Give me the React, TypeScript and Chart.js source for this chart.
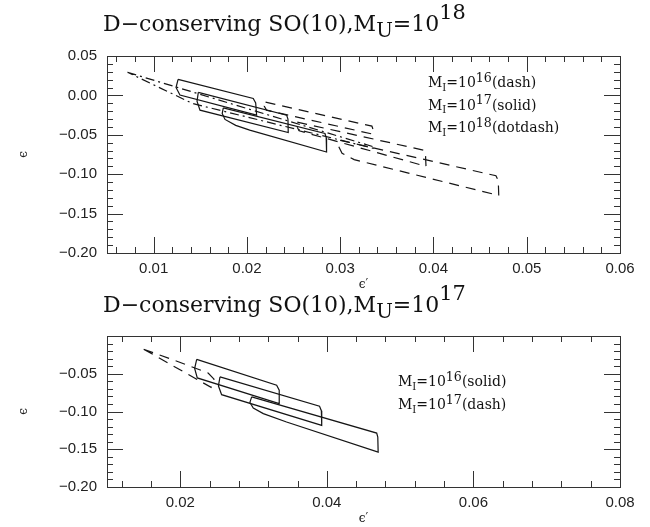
import React, { useEffect, useRef } from "react";
import { Chart, registerables } from "chart.js";

Chart.register(...registerables);

// ---------------- Top panel: D-conserving SO(10), M_U = 10^18 ----------------
const topXTicks = [0.01, 0.02, 0.03, 0.04, 0.05, 0.06];
const topYTicks = [0.05, 0.0, -0.05, -0.1, -0.15, -0.2];

// M_I = 10^17 (solid)
const topSolidAX = [0.01262, 0.02068, 0.02094, 0.02104, 0.01282, 0.0124, 0.01262];
const topSolidAY = [0.0204, -0.0038, -0.0095, -0.0251, 0.0004, 0.01, 0.0204];
const topSolidBX = [0.01479, 0.02426, 0.0244, 0.02443, 0.01497, 0.01465, 0.01479];
const topSolidBY = [0.0038, -0.0251, -0.03, -0.0471, -0.0187, -0.0075, 0.0038];
const topSolidCX = [0.01747, 0.02837, 0.0285, 0.02854, 0.0203, 0.0188, 0.01765, 0.01735, 0.01747];
const topSolidCY = [-0.0158, -0.0483, -0.0535, -0.0718, -0.0441, -0.038, -0.0305, -0.023, -0.0158];

// M_I = 10^16 (dash)
const topDashQX = [0.022, 0.0334, 0.03352, 0.0335, 0.0221, 0.02185, 0.022];
const topDashQY = [-0.0085, -0.039, -0.043, -0.0492, -0.0187, -0.0135, -0.0085];
const topDashSX = [0.0254, 0.039, 0.03915, 0.0392, 0.0256, 0.02535, 0.0254];
const topDashSY = [-0.034, -0.0696, -0.076, -0.09, -0.045, -0.0395, -0.034];
const topDashRX = [0.03, 0.0467, 0.04695, 0.047, 0.0315, 0.0302, 0.02985, 0.03];
const topDashRY = [-0.057, -0.102, -0.108, -0.127, -0.0815, -0.0734, -0.065, -0.057];

// M_I = 10^18 (dotdash)
const topDotDashX = [0.0072, 0.0335, 0.0337, 0.0142, 0.0072];
const topDotDashY = [0.0293, -0.065, -0.0675, -0.0104, 0.0293];

// ---------------- Bottom panel: D-conserving SO(10), M_U = 10^17 ----------------
const botXTicks = [0.02, 0.04, 0.06, 0.08];
const botYTicks = [-0.05, -0.1, -0.15, -0.2];

// M_I = 10^16 (solid)
const botSolidAX = [0.02224, 0.03315, 0.0335, 0.0335, 0.02232, 0.02196, 0.02224];
const botSolidAY = [-0.031, -0.0652, -0.0718, -0.0895, -0.0555, -0.043, -0.031];
const botSolidBX = [0.02542, 0.039, 0.03925, 0.0393, 0.02564, 0.0252, 0.02542];
const botSolidBY = [-0.0541, -0.0931, -0.099, -0.1184, -0.0777, -0.066, -0.0541];
const botSolidCX = [0.02974, 0.0468, 0.04695, 0.047, 0.0345, 0.03133, 0.02996, 0.0295, 0.02974];
const botSolidCY = [-0.0807, -0.1286, -0.134, -0.1539, -0.1139, -0.1028, -0.0953, -0.088, -0.0807];

// M_I = 10^17 (dash)
const botDashX = [0.015, 0.019, 0.0238, 0.0246, 0.0242, 0.015];
const botDashY = [-0.0175, -0.0315, -0.049, -0.057, -0.068, -0.0175];

// ---------------- Text ----------------
type Seg = { t: string; k: "n" | "sub" | "sup" };
const topTitle: Seg[] = [
  { t: "D−conserving SO(10),M", k: "n" },
  { t: "U", k: "sub" },
  { t: "=10", k: "n" },
  { t: "18", k: "sup" },
];
const botTitle: Seg[] = [
  { t: "D−conserving SO(10),M", k: "n" },
  { t: "U", k: "sub" },
  { t: "=10", k: "n" },
  { t: "17", k: "sup" },
];
const legendRow = (exp: string, style: string): Seg[] => [
  { t: "M", k: "n" },
  { t: "I", k: "sub" },
  { t: "=10", k: "n" },
  { t: exp, k: "sup" },
  { t: "(" + style + ")", k: "n" },
];
const topLegend = [legendRow("16", "dash"), legendRow("17", "solid"), legendRow("18", "dotdash")];
const botLegend = [legendRow("16", "solid"), legendRow("17", "dash")];

const INK = "#151515";
const AXIS = "#333";
const SERIF = "'DejaVu Serif', serif";
const SANS = "'Liberation Sans', Arial, sans-serif";
const DASH = [10, 7];
const DOTDASH = [9, 4, 2, 4];

function band(xs: number[], ys: number[], dash: number[]) {
  return {
    data: xs.map((x, i) => ({ x, y: ys[i] })),
    showLine: true,
    borderColor: INK,
    borderWidth: 1.2,
    borderDash: dash,
    pointRadius: 0,
    fill: false,
    tension: 0,
  };
}

function drawRich(ctx: CanvasRenderingContext2D, segs: Seg[], x: number, y: number, size: number, sc: any) {
  let cx = x;
  for (const s of segs) {
    const fs = s.k === "n" ? size : s.k === "sub" ? size * sc.subSize : size * sc.supSize;
    const dy = s.k === "sub" ? sc.subDy : s.k === "sup" ? -sc.supDy : 0;
    ctx.font = `${fs}px ${SERIF}`;
    ctx.fillText(s.t, cx, y + dy);
    cx += ctx.measureText(s.t).width;
  }
}

const fmt = (v: number) => {
  const a = Math.abs(v) < 1e-9 ? 0 : v;
  return (a < 0 ? "−" : "") + Math.abs(a).toFixed(2);
};

const framePlugin = {
  id: "frameTicks",
  afterDraw(chart: any, _a: any, o: any) {
    const { ctx, chartArea: a, scales } = chart;
    const xs = scales.x;
    const ys = scales.y;
    ctx.save();
    ctx.strokeStyle = AXIS;
    ctx.lineWidth = 1;
    ctx.strokeRect(a.left + 0.5, a.top + 0.5, a.right - a.left, a.bottom - a.top);
    ctx.beginPath();
    const xt = (v: number, len: number) => {
      const p = Math.round(xs.getPixelForValue(v)) + 0.5;
      ctx.moveTo(p, a.bottom);
      ctx.lineTo(p, a.bottom - len);
      ctx.moveTo(p, a.top);
      ctx.lineTo(p, a.top + len);
    };
    const yt = (v: number, len: number) => {
      const p = Math.round(ys.getPixelForValue(v)) + 0.5;
      ctx.moveTo(a.left, p);
      ctx.lineTo(a.left + len, p);
      ctx.moveTo(a.right, p);
      ctx.lineTo(a.right - len, p);
    };
    const minors = (min: number, max: number, step: number, f: (v: number) => void) => {
      const i0 = Math.ceil(min / step - 1e-6);
      const i1 = Math.floor(max / step + 1e-6);
      for (let i = i0; i <= i1; i++) f(i * step);
    };
    minors(xs.min, xs.max, o.xMinor, (v) => xt(v, 6));
    minors(ys.min, ys.max, o.yMinor, (v) => yt(v, 6));
    o.xMajor.forEach((v: number) => xt(v, 16));
    o.yMajor.forEach((v: number) => yt(v, 16));
    ctx.stroke();
    ctx.restore();
  },
};

const textPlugin = {
  id: "richText",
  afterDraw(chart: any, _a: any, o: any) {
    const ctx = chart.ctx;
    ctx.save();
    ctx.fillStyle = "#111";
    ctx.textBaseline = "alphabetic";
    ctx.textAlign = "left";
    drawRich(ctx, o.title, o.titleX, o.titleY, 22, { subSize: 0.9, supSize: 0.95, subDy: 6, supDy: 12 });
    o.legend.forEach((row: Seg[], i: number) => {
      drawRich(ctx, row, o.legendX, o.legendY + i * o.legendGap, 14, { subSize: 0.72, supSize: 0.9, subDy: 3.5, supDy: 5.5 });
    });
    ctx.restore();
  },
};

type PanelSpec = {
  datasets: any[];
  xMin: number;
  xMax: number;
  yMin: number;
  yMax: number;
  xTicks: number[];
  yTicks: number[];
  xMinor: number;
  yMinor: number;
  top: number;
  bottom: number;
  text: any;
};

function Panel({ spec }: { spec: PanelSpec }) {
  const ref = useRef<HTMLCanvasElement>(null);
  useEffect(() => {
    const xH = 40;
    const chart = new Chart(ref.current as HTMLCanvasElement, {
      type: "scatter",
      data: { datasets: spec.datasets },
      options: {
        animation: false,
        responsive: false,
        devicePixelRatio: 1,
        layout: { padding: { top: spec.top, right: 30, left: 0, bottom: 527 - spec.bottom - xH } },
        plugins: {
          legend: { display: false },
          tooltip: { enabled: false },
          frameTicks: { xMinor: spec.xMinor, yMinor: spec.yMinor, xMajor: spec.xTicks, yMajor: spec.yTicks },
          richText: spec.text,
        } as any,
        scales: {
          x: {
            type: "linear",
            min: spec.xMin,
            max: spec.xMax,
            afterBuildTicks: (s: any) => {
              s.ticks = spec.xTicks.map((v) => ({ value: v }));
            },
            afterFit: (s: any) => {
              s.height = xH;
            },
            ticks: {
              callback: (v: any) => fmt(Number(v)),
              font: { family: SANS, size: 15 },
              color: "#222",
              padding: 7,
              maxRotation: 0,
              autoSkip: false,
            },
            grid: { display: false, drawTicks: false },
            border: { display: false },
            title: {
              display: true,
              text: "ϵ′",
              font: { family: SERIF, size: 12 },
              color: "#222",
              padding: { top: 0, bottom: 1 },
            },
          },
          y: {
            type: "linear",
            min: spec.yMin,
            max: spec.yMax,
            afterBuildTicks: (s: any) => {
              s.ticks = spec.yTicks.map((v) => ({ value: v }));
            },
            afterFit: (s: any) => {
              s.width = 107;
            },
            ticks: {
              callback: (v: any) => fmt(Number(v)),
              font: { family: SANS, size: 15 },
              color: "#222",
              padding: 10,
              autoSkip: false,
            },
            grid: { display: false, drawTicks: false },
            border: { display: false },
            title: {
              display: true,
              text: "ϵ",
              font: { family: SERIF, size: 12 },
              color: "#222",
              padding: { top: 17, bottom: 0 },
            },
          },
        },
      },
      plugins: [framePlugin, textPlugin],
    } as any);
    return () => chart.destroy();
  }, []);
  return (
    <canvas
      ref={ref}
      width={650}
      height={527}
      style={{ position: "absolute", left: 0, top: 0, width: 650, height: 527 }}
    />
  );
}

const topSpec: PanelSpec = {
  datasets: [
    band(topSolidAX, topSolidAY, []),
    band(topSolidBX, topSolidBY, []),
    band(topSolidCX, topSolidCY, []),
    band(topDashQX, topDashQY, DASH),
    band(topDashSX, topDashSY, DASH),
    band(topDashRX, topDashRY, DASH),
    band(topDotDashX, topDotDashY, DOTDASH),
  ],
  xMin: 0.005,
  xMax: 0.06,
  yMin: -0.2,
  yMax: 0.05,
  xTicks: topXTicks,
  yTicks: topYTicks,
  xMinor: 0.002,
  yMinor: 0.01,
  top: 56,
  bottom: 253,
  text: { title: topTitle, titleX: 103, titleY: 31, legend: topLegend, legendX: 428, legendY: 87, legendGap: 22.5 },
};

const botSpec: PanelSpec = {
  datasets: [
    band(botSolidAX, botSolidAY, []),
    band(botSolidBX, botSolidBY, []),
    band(botSolidCX, botSolidCY, []),
    band(botDashX, botDashY, DASH),
  ],
  xMin: 0.01,
  xMax: 0.08,
  yMin: -0.2,
  yMax: 0.0,
  xTicks: botXTicks,
  yTicks: botYTicks,
  xMinor: 0.004,
  yMinor: 0.01,
  top: 336,
  bottom: 487,
  text: { title: botTitle, titleX: 103, titleY: 312, legend: botLegend, legendX: 398, legendY: 386, legendGap: 23 },
};

export default function App() {
  return (
    <div style={{ position: "absolute", left: 0, top: 0, width: 650, height: 527, background: "#fff" }}>
      <Panel spec={topSpec} />
      <Panel spec={botSpec} />
    </div>
  );
}
